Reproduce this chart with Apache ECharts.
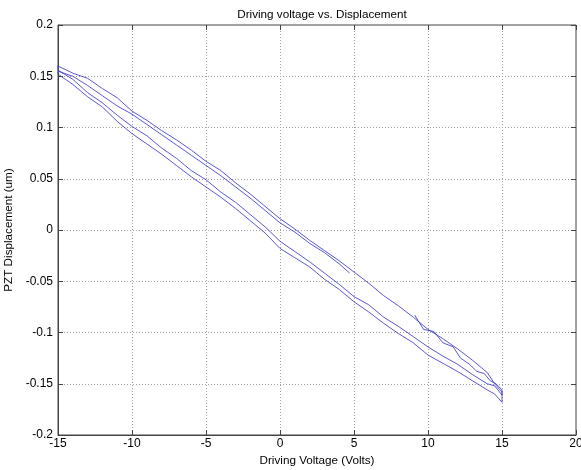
<!DOCTYPE html>
<html>
<head>
<meta charset="utf-8">
<script src="https://cdn.jsdelivr.net/npm/echarts@6/dist/echarts.min.js"></script>
<style>html,body{margin:0;padding:0;background:#fff;}#c{width:581px;height:470px;}</style>
</head>
<body>
<div id="c"></div>
<script>
// Sweep A: 9.1 V -> 15 V
var aX = [9.1, 9.7, 10.4, 11.0, 11.7, 12.2, 12.8, 13.3, 13.8, 14.2, 14.6, 15.0];
var aY = [-0.083, -0.097, -0.099, -0.110, -0.114, -0.125, -0.131, -0.138, -0.140, -0.147, -0.150, -0.156];
// Sweep B: 15 V -> -15 V
var bX = [15, 14.5, 14, 13, 12, 11, 10, 9, 8, 7, 6, 5, 4, 3, 2, 1, 0, -1, -2, -3, -4, -5, -6, -7, -8, -9, -10, -11, -12, -13, -14, -15];
var bY = [-0.161, -0.152, -0.150, -0.141, -0.131, -0.123, -0.114, -0.104, -0.094, -0.085, -0.073, -0.065, -0.053, -0.042, -0.031, -0.021, -0.011, 0.003, 0.015, 0.027, 0.037, 0.049, 0.058, 0.070, 0.080, 0.092, 0.101, 0.112, 0.124, 0.134, 0.147, 0.156];
// Sweep C: -15 V -> 15 V
var cX = [-15, -14, -13, -12, -11, -10, -9, -8, -7, -6, -5, -4, -3, -2, -1, 0, 1, 2, 3, 4, 5, 6, 7, 8, 9, 10, 11, 12, 13, 14, 14.5, 15];
var cY = [0.160, 0.153, 0.148, 0.138, 0.129, 0.116, 0.107, 0.097, 0.088, 0.078, 0.067, 0.058, 0.046, 0.035, 0.023, 0.011, 0.001, -0.010, -0.020, -0.030, -0.041, -0.052, -0.064, -0.074, -0.085, -0.097, -0.106, -0.116, -0.127, -0.139, -0.150, -0.158];
// Sweep D: 15 V -> -15 V
var dX = [15, 14.5, 14, 13, 12, 11, 10, 9, 8, 7, 6, 5, 4, 3, 2, 1, 0, -1, -2, -3, -4, -5, -6, -7, -8, -9, -10, -11, -12, -13, -14, -15];
var dY = [-0.168, -0.160, -0.156, -0.147, -0.138, -0.130, -0.122, -0.110, -0.101, -0.091, -0.080, -0.070, -0.058, -0.048, -0.036, -0.027, -0.018, -0.003, 0.009, 0.021, 0.032, 0.042, 0.052, 0.063, 0.074, 0.084, 0.094, 0.106, 0.120, 0.130, 0.142, 0.152];
// Sweep E: -15 V -> 4.7 V
var eX = [-15, -14, -13, -12, -11, -10, -9, -8, -7, -6, -5, -4, -3, -2, -1, 0, 1, 2, 3, 4, 4.7];
var eY = [0.155, 0.150, 0.141, 0.131, 0.121, 0.113, 0.103, 0.093, 0.083, 0.073, 0.063, 0.053, 0.042, 0.031, 0.019, 0.007, -0.002, -0.013, -0.022, -0.033, -0.042];

var xTicks = [-15, -10, -5, 0, 5, 10, 15, 20];
var yTicks = [-0.2, -0.15, -0.1, -0.05, 0, 0.05, 0.1, 0.15, 0.2];

function pairs(xs, ys) { return xs.map(function (x, i) { return [x, ys[i]]; }); }
var data = [].concat(pairs(aX, aY), pairs(bX, bY), pairs(cX, cY), pairs(dX, dY), pairs(eX, eY));

var font = 'Liberation Sans, Arial, sans-serif';
var tickStyle = {show: true, inside: true, length: 5, lineStyle: {color: '#444'}};
var gridLine = {show: true, lineStyle: {color: '#a0a0a0', type: [1, 2], width: 1}};
var chart = echarts.init(document.getElementById('c'), null, {renderer: 'canvas'});
chart.setOption({
  animation: false,
  backgroundColor: '#fff',
  title: {
    text: 'Driving voltage vs. Displacement',
    left: 317, top: 4, textAlign: 'center',
    textStyle: {fontFamily: font, fontSize: 11.7, fontWeight: 'normal', color: '#000'}
  },
  grid: {left: 58, right: 5, top: 25, bottom: 35, containLabel: false, outerBoundsMode: 'none',
    show: true, borderColor: '#444', borderWidth: 1, backgroundColor: 'transparent'},
  xAxis: [{
    type: 'value', min: xTicks[0], max: xTicks[xTicks.length - 1], interval: 5,
    name: 'Driving Voltage (Volts)', nameLocation: 'middle', nameGap: 18,
    nameTextStyle: {fontFamily: font, fontSize: 11.7, color: '#000'},
    axisLine: {show: true, onZero: false, lineStyle: {color: '#444'}},
    axisTick: tickStyle,
    axisLabel: {fontFamily: font, fontSize: 12, color: '#000', margin: 3},
    splitLine: gridLine
  }, {
    type: 'value', position: 'top', min: xTicks[0], max: xTicks[xTicks.length - 1], interval: 5,
    axisLine: {show: false, onZero: false}, axisTick: tickStyle,
    axisLabel: {show: false}, splitLine: {show: false}
  }],
  yAxis: [{
    type: 'value', min: yTicks[0], max: yTicks[yTicks.length - 1], interval: 0.05,
    name: 'PZT Displacement (um)', nameLocation: 'middle', nameGap: 37,
    nameTextStyle: {fontFamily: font, fontSize: 11.7, color: '#000'},
    axisLine: {show: true, onZero: false, lineStyle: {color: '#444'}},
    axisTick: tickStyle,
    axisLabel: {fontFamily: font, fontSize: 12, color: '#000', margin: 5,
      formatter: function (v) { return String(+v.toFixed(2)); }},
    splitLine: gridLine
  }, {
    type: 'value', position: 'right', min: yTicks[0], max: yTicks[yTicks.length - 1], interval: 0.05,
    axisLine: {show: false, onZero: false}, axisTick: tickStyle,
    axisLabel: {show: false}, splitLine: {show: false}
  }],
  series: [{
    type: 'line', data: data, showSymbol: false, symbol: 'none',
    lineStyle: {color: '#3c3cc8', width: 1, opacity: 0.85}, z: 5
  }]
});
</script>
</body>
</html>
